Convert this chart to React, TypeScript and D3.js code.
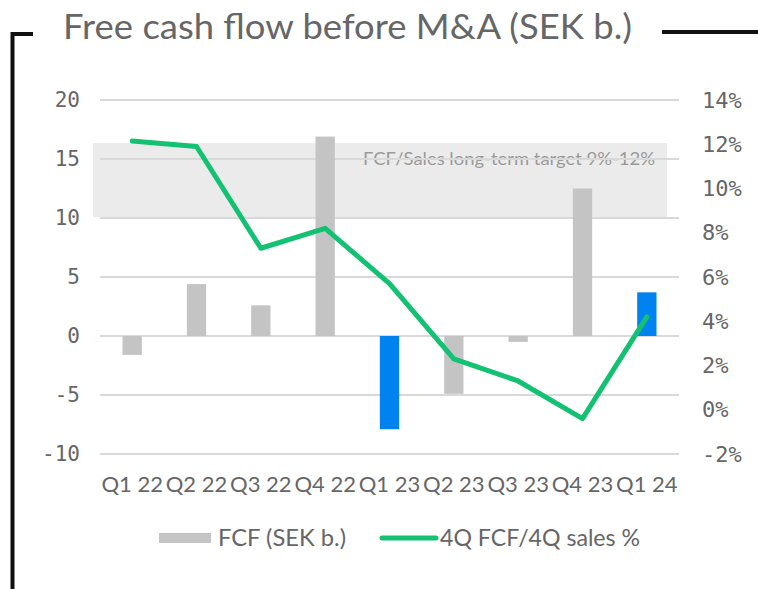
import React from "react";
import * as d3 from "d3";

const categories = ["Q1 22", "Q2 22", "Q3 22", "Q4 22", "Q1 23", "Q2 23", "Q3 23", "Q4 23", "Q1 24"];
const fcfValues = [-1.6, 4.4, 2.6, 16.9, -7.9, -4.9, -0.5, 12.5, 3.7];
const highlighted = [false, false, false, false, true, false, false, false, true];
const fcfSalesPct = [12.15, 11.9, 7.3, 8.2, 5.7, 2.3, 1.3, -0.4, 4.2];
const leftTicks = [20, 15, 10, 5, 0, -5, -10];
const rightTicks = [14, 12, 10, 8, 6, 4, 2, 0, -2];
const targetBand = [8.7, 12.05];

const W = 758;
const H = 589;
const margin = { left: 100, right: 79, top: 100, bottom: 135 };

export default function App() {
  const x = d3.scaleBand<string>().domain(categories).range([margin.left, W - margin.right]).paddingInner(0.7).paddingOuter(0.35);
  const xc = (c: string) => (x(c) as number) + x.bandwidth() / 2;
  const yL = d3.scaleLinear().domain([-10, 20]).range([454, 100]);
  const yR = d3.scaleLinear().domain([-2, 14]).range([454, 100]);
  const line = d3
    .line<number>()
    .x((_, i) => xc(categories[i]))
    .y((d) => yR(d));
  const textColor = "#666666";
  const tickFont = "'DejaVu Sans Mono', monospace";
  const font = "Lato, 'Noto Sans', sans-serif";
  return (
    <svg width={W} height={H} style={{ position: "absolute", left: 0, top: 0, background: "#fff" }}>
      {/* frame */}
      <path d="M12.5,589 L12.5,34 L33,34" fill="none" stroke="#111" strokeWidth={4} />
      <line x1={662} x2={758} y1={32} y2={32} stroke="#111" strokeWidth={4} />
      <text x={63} y={39} fontFamily={font} fontSize={35} fontWeight={400} fill={textColor} textLength={569} lengthAdjust="spacingAndGlyphs">
        Free cash flow before M&amp;A (SEK b.)
      </text>
      {/* target band */}
      <rect x={93} y={yR(targetBand[1])} width={667 - 93} height={yR(targetBand[0]) - yR(targetBand[1])} fill="#ebebeb" />
      <text x={655} y={165} textAnchor="end" fontFamily={font} fontSize={18} fill="#9a9a9a" textLength={292} lengthAdjust="spacingAndGlyphs">
        FCF/Sales long-term target 9%-12%
      </text>
      {/* grid */}
      {leftTicks.map((t) => (
        <line key={t} x1={margin.left} x2={W - margin.right} y1={yL(t)} y2={yL(t)} stroke="#d9d9d9" strokeWidth={2} />
      ))}
      {/* left axis labels */}
      {leftTicks.map((t) => (
        <text key={t} x={80} y={yL(t)} dy="0.35em" textAnchor="end" fontFamily={tickFont} fontSize={21} fill={textColor}>
          {t}
        </text>
      ))}
      {rightTicks.map((t) => (
        <text key={t} x={702} y={yR(t)} dy="0.35em" textAnchor="start" fontFamily={tickFont} fontSize={22} fill={textColor}>
          {t}%
        </text>
      ))}
      {/* bars */}
      {fcfValues.map((v, i) => (
        <rect
          key={i}
          x={x(categories[i])}
          width={x.bandwidth()}
          y={Math.min(yL(v), yL(0))}
          height={Math.abs(yL(v) - yL(0))}
          fill={highlighted[i] ? "#0082f0" : "#c4c4c4"}
        />
      ))}
      {/* line */}
      <path d={line(fcfSalesPct) || ""} fill="none" stroke="#12c272" strokeWidth={5} strokeLinejoin="round" strokeLinecap="round" />
      {/* x labels */}
      {categories.map((c) => (
        <text key={c} x={xc(c)} y={492} textAnchor="middle" fontFamily={font} fontSize={22} fill={textColor}>
          {c}
        </text>
      ))}
      {/* legend */}
      <rect x={159} y={533} width={52} height={10} fill="#c4c4c4" />
      <text x={218} y={546} fontFamily={font} fontSize={23} fill={textColor} textLength={128} lengthAdjust="spacingAndGlyphs">
        FCF (SEK b.)
      </text>
      <line x1={382} x2={436} y1={538} y2={538} stroke="#12c272" strokeWidth={5} strokeLinecap="round" />
      <text x={440} y={546} fontFamily={font} fontSize={23} fill={textColor} textLength={200} lengthAdjust="spacingAndGlyphs">
        4Q FCF/4Q sales %
      </text>
    </svg>
  );
}
